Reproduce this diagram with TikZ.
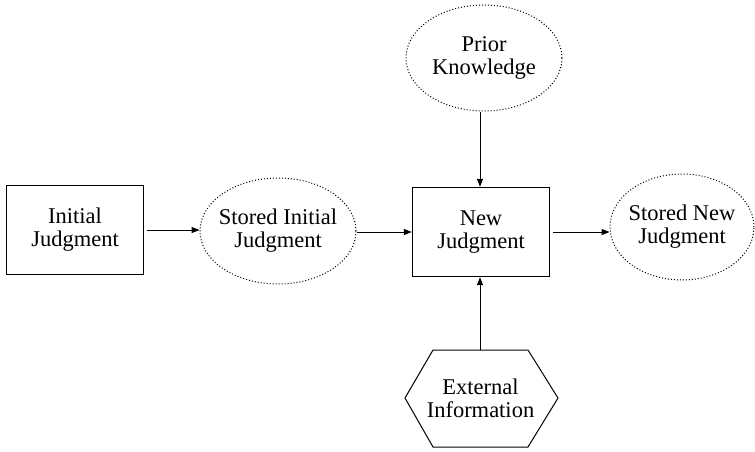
\documentclass[tikz,border=0pt]{standalone}
\usepackage{fontspec}
\setmainfont{Liberation Serif}
\usetikzlibrary{shapes.geometric,arrows.meta}
\begin{document}
\begin{tikzpicture}[x=1pt,y=-1pt,
  every node/.style={font=\rmfamily\fontsize{22.5}{23}\selectfont, align=center, inner sep=0pt},
  judgebox/.style={draw, line width=1.4pt, minimum width=137pt, minimum height=89pt},
  store/.style={draw, ellipse, inner sep=-12pt, line width=1pt, dash pattern=on 1pt off 2pt, minimum width=156pt, minimum height=106pt},
  conn/.style={line width=1pt, -{Triangle[length=8pt,width=6pt]}}]
\useasboundingbox (0,0) rectangle (755,451);
\node[judgebox] (init) at (75,230) {Initial\\Judgment};
\node[store] (sinit) at (278,231) {Stored Initial\\Judgment};
\node[judgebox] (new) at (481,232) {New\\Judgment};
\node[store, minimum width=144pt] (snew) at (682,227) {Stored New\\Judgment};
\node[store] (prior) at (484,58) {Prior\\Knowledge};
\draw[line width=1pt] (405,398) -- (433,350) -- (528,350) -- (558,398) -- (528,447) -- (433,447) -- cycle;
\node[minimum height=97pt] (ext) at (480.5,398.5) {External\\Information};
\draw[conn] ([xshift=3pt]init.east) -- (sinit.west |- init.east);
\draw[conn] (sinit.east |- new.west) -- (new.west);
\draw[conn] ([xshift=3pt]new.east) -- (snew.west |- new.east);
\draw[conn] (prior.south -| 480,0) -- (new.north -| 480,0);
\draw[conn] (ext.north -| 480,0) -- (new.south -| 480,0);
\end{tikzpicture}
\end{document}
